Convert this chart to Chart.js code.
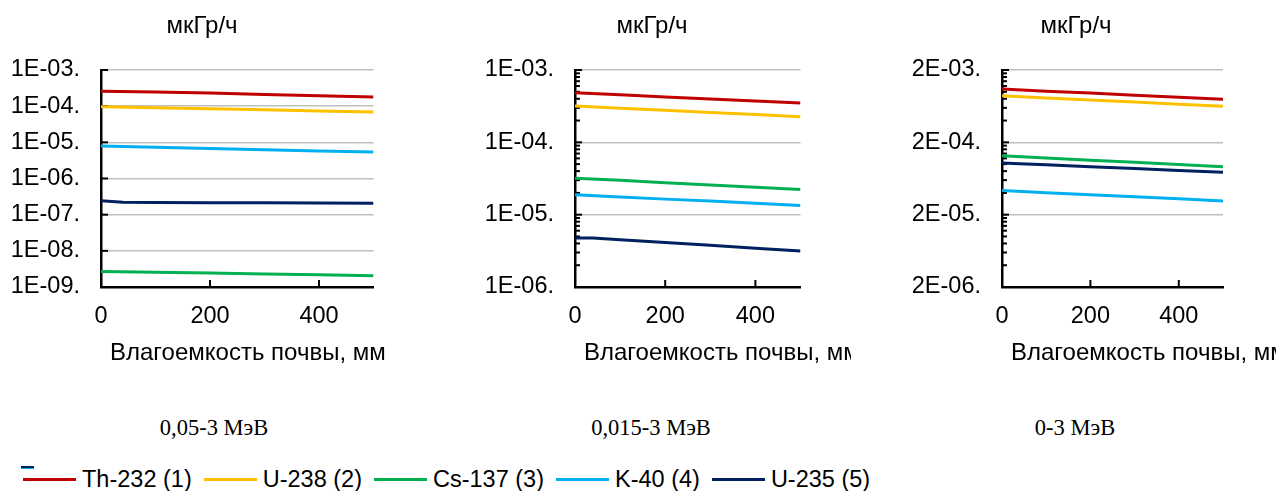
<!DOCTYPE html>
<html lang="ru">
<head>
<meta charset="utf-8">
<title>Мощность дозы в зависимости от влагоемкости почвы</title>
<script src="https://cdn.jsdelivr.net/npm/chart.js@4.4.1/dist/chart.umd.min.js"></script>
<style>
  html, body { margin: 0; padding: 0; background: #fff; }
  body { width: 1276px; height: 491px; position: relative; overflow: hidden; font-family: "Liberation Sans", Arial, sans-serif; }
  .panel { position: absolute; top: 0; height: 380px; overflow: hidden; }
  .caption { position: absolute; top: 415px; font-family: "Liberation Serif", "Times New Roman", serif; font-size: 22.5px; color: #000; transform: translateX(-50%); white-space: nowrap; }
  #legend { position: absolute; left: 23px; top: 464px; display: flex; align-items: center; white-space: nowrap; }
  .lg-item { display: flex; align-items: center; margin-right: 12px; }
  .lg-line { width: 53px; height: 3px; margin-right: 6px; }
  .lg-text { font-size: 23.5px; color: #000; line-height: 30px; }
  #stray { position: absolute; left: 21px; top: 466px; width: 13px; height: 2px; background: #002060; border-bottom: 1px solid #00B0F0; }
</style>
</head>
<body>

<div class="panel" id="p0"><canvas id="c0" width="425" height="380"></canvas></div>
<div class="panel" id="p1"><canvas id="c1" width="426" height="380"></canvas></div>
<div class="panel" id="p2"><canvas id="c2" width="425" height="380"></canvas></div>

<div class="caption" style="left:214px">0,05-3 МэВ</div>
<div class="caption" style="left:651px">0,015-3 МэВ</div>
<div class="caption" style="left:1075px">0-3 МэВ</div>

<div id="stray"></div>
<div id="legend"></div>

<script>
// Soil moisture capacity, mm
const moisture = [0, 100, 200, 300, 400, 500];
const moistureU235 = [0, 40, 100, 200, 300, 400, 500];

const seriesNames  = ['Th-232 (1)', 'U-238 (2)', 'Cs-137 (3)', 'K-40 (4)', 'U-235 (5)'];
const seriesColors = ['#C00000', '#FFC000', '#00B050', '#00B0F0', '#002060'];

const xTickValues = [0, 200, 400];
const yUnit = 'мкГр/ч';
const xTitle = 'Влагоемкость почвы, мм';

// Dose rate, µGy/h — energy range 0,05-3 MeV
const th232_a = [2.6e-4, 2.45e-4, 2.3e-4, 2.1e-4, 1.95e-4, 1.8e-4];
const u238_a  = [9.7e-5, 9.1e-5, 8.5e-5, 7.9e-5, 7.4e-5, 6.9e-5];
const cs137_a = [2.7e-9, 2.56e-9, 2.42e-9, 2.29e-9, 2.17e-9, 2.05e-9];
const k40_a   = [7.9e-6, 7.3e-6, 6.7e-6, 6.2e-6, 5.8e-6, 5.4e-6];
const u235_a  = [2.43e-7, 2.2e-7, 2.18e-7, 2.15e-7, 2.12e-7, 2.09e-7, 2.06e-7];

// Energy range 0,015-3 MeV
const th232_b = [4.85e-4, 4.54e-4, 4.25e-4, 3.98e-4, 3.73e-4, 3.49e-4];
const u238_b  = [3.17e-4, 2.96e-4, 2.77e-4, 2.59e-4, 2.42e-4, 2.26e-4];
const cs137_b = [3.2e-5, 2.98e-5, 2.77e-5, 2.58e-5, 2.4e-5, 2.23e-5];
const k40_b   = [1.88e-5, 1.76e-5, 1.64e-5, 1.54e-5, 1.44e-5, 1.34e-5];
const u235_b  = [4.77e-6, 4.75e-6, 4.51e-6, 4.12e-6, 3.77e-6, 3.44e-6, 3.14e-6];

// Energy range 0-3 MeV
const th232_c = [1.09e-3, 1.02e-3, 9.58e-4, 8.98e-4, 8.42e-4, 7.9e-4];
const u238_c  = [8.8e-4, 8.23e-4, 7.7e-4, 7.2e-4, 6.74e-4, 6.3e-4];
const cs137_c = [1.3e-4, 1.213e-4, 1.132e-4, 1.057e-4, 9.86e-5, 9.2e-5];
const k40_c   = [4.3e-5, 4.03e-5, 3.77e-5, 3.53e-5, 3.31e-5, 3.1e-5];
const u235_c  = [1.04e-4, 1.015e-4, 9.79e-5, 9.22e-5, 8.68e-5, 8.18e-5, 7.7e-5];

// Logarithmic axis ticks
const yTicksA  = [1e-3, 1e-4, 1e-5, 1e-6, 1e-7, 1e-8, 1e-9];
const yLabelsA = ['1E-03.', '1E-04.', '1E-05.', '1E-06.', '1E-07.', '1E-08.', '1E-09.'];
const yTicksB  = [1e-3, 1e-4, 1e-5, 1e-6];
const yLabelsB = ['1E-03.', '1E-04.', '1E-05.', '1E-06.'];
const yTicksC  = [2e-3, 2e-4, 2e-5, 2e-6];
const yLabelsC = ['2E-03.', '2E-04.', '2E-05.', '2E-06.'];

const FONT = '"Liberation Sans", Arial, sans-serif';
const TICK_SIZE = 23.5;
const TITLE_SIZE = 24;

const panels = [
  { id: 'c0', left: 0,   width: 425, plotLeft: 101, plotRight: 373.5, yTitleX: 202,
    series: [th232_a, u238_a, cs137_a, k40_a, u235_a], ticks: yTicksA, labels: yLabelsA, minor: false },
  { id: 'c1', left: 425, width: 426, plotLeft: 575, plotRight: 800.5, yTitleX: 652,
    series: [th232_b, u238_b, cs137_b, k40_b, u235_b], ticks: yTicksB, labels: yLabelsB, minor: true },
  { id: 'c2', left: 851, width: 425, plotLeft: 1002, plotRight: 1223, yTitleX: 1076,
    series: [th232_c, u238_c, cs137_c, k40_c, u235_c], ticks: yTicksC, labels: yLabelsC, minor: true }
];

const PLOT_TOP = 70, PLOT_BOTTOM = 287, PANEL_H = 380;

// Tick marks pointing into the plot, plus minor log ticks
const innerTicks = {
  id: 'innerTicks',
  beforeDatasetsDraw(chart, args, opts) {
    const { ctx, chartArea, scales: { x, y } } = chart;
    ctx.save();
    ctx.strokeStyle = '#000';
    ctx.lineWidth = 2;
    const seg = (x1, y1, x2, y2) => { ctx.beginPath(); ctx.moveTo(x1, y1); ctx.lineTo(x2, y2); ctx.stroke(); };
    y.ticks.forEach(t => {
      const py = y.getPixelForValue(t.value);
      seg(chartArea.left, py, chartArea.left + 7, py);
    });
    if (opts.minor) {
      y.ticks.forEach(t => {
        for (let k = 2; k <= 9; k++) {
          const v = t.value * k;
          if (v < y.max * 0.999) {
            const py = y.getPixelForValue(v);
            seg(chartArea.left, py, chartArea.left + 5, py);
          }
        }
      });
    }
    x.ticks.forEach(t => {
      const px = x.getPixelForValue(t.value);
      seg(px, chartArea.bottom, px, chartArea.bottom - 7);
    });
    ctx.restore();
  }
};

// Axis titles: unit above the value axis, moisture label below the ticks
const axisTitles = {
  id: 'axisTitles',
  afterDraw(chart, args, opts) {
    const { ctx, chartArea } = chart;
    ctx.save();
    ctx.fillStyle = '#000';
    ctx.font = TITLE_SIZE + 'px ' + FONT;
    ctx.textBaseline = 'middle';
    ctx.textAlign = 'center';
    ctx.fillText(yUnit, opts.yTitleX, 26);
    ctx.textAlign = 'left';
    ctx.fillText(xTitle, chartArea.left + 9, 353);
    ctx.restore();
  }
};

panels.forEach((p, idx) => {
  document.getElementById('p' + idx).style.left = p.left + 'px';
  document.getElementById('p' + idx).style.width = p.width + 'px';

  const datasets = p.series.map((vals, i) => {
    const xs = vals.length === moistureU235.length ? moistureU235 : moisture;
    return {
      label: seriesNames[i],
      data: vals.map((v, j) => ({ x: xs[j], y: v })),
      borderColor: seriesColors[i],
      backgroundColor: seriesColors[i],
      borderWidth: 3,
      pointRadius: 0,
      tension: 0,
      fill: false
    };
  });

  new Chart(document.getElementById(p.id), {
    type: 'line',
    data: { datasets },
    options: {
      responsive: false,
      animation: false,
      events: [],
      layout: { padding: { top: PLOT_TOP, left: 0, right: p.left + p.width - p.plotRight, bottom: 0 } },
      plugins: {
        legend: { display: false },
        tooltip: { enabled: false },
        innerTicks: { minor: p.minor },
        axisTitles: { yTitleX: p.yTitleX - p.left }
      },
      scales: {
        x: {
          type: 'linear',
          min: 0,
          max: 500,
          afterBuildTicks: s => { s.ticks = xTickValues.map(v => ({ value: v })); },
          afterFit: s => { s.height = PANEL_H - PLOT_BOTTOM; },
          grid: { display: false, drawTicks: false },
          border: { display: true, color: '#000', width: 2.5 },
          ticks: { padding: 15, color: '#000', font: { family: FONT, size: TICK_SIZE }, maxRotation: 0 }
        },
        y: {
          type: 'logarithmic',
          min: p.ticks[p.ticks.length - 1],
          max: p.ticks[0],
          afterBuildTicks: s => { s.ticks = p.ticks.map(v => ({ value: v })); },
          afterFit: s => { s.width = p.plotLeft - p.left; },
          grid: { color: '#BFBFBF', lineWidth: 1.6, drawTicks: false },
          border: { display: true, color: '#000', width: 2.5 },
          ticks: {
            padding: 21,
            color: '#000',
            font: { family: FONT, size: TICK_SIZE },
            callback: (v, i) => p.labels[i]
          }
        }
      }
    },
    plugins: [innerTicks, axisTitles]
  });
});

// Legend built from the series names and colours
const legend = document.getElementById('legend');
seriesNames.forEach((name, i) => {
  const item = document.createElement('div');
  item.className = 'lg-item';
  const line = document.createElement('div');
  line.className = 'lg-line';
  line.style.background = seriesColors[i];
  const txt = document.createElement('span');
  txt.className = 'lg-text';
  txt.textContent = name;
  item.appendChild(line);
  item.appendChild(txt);
  legend.appendChild(item);
});
</script>
</body>
</html>
